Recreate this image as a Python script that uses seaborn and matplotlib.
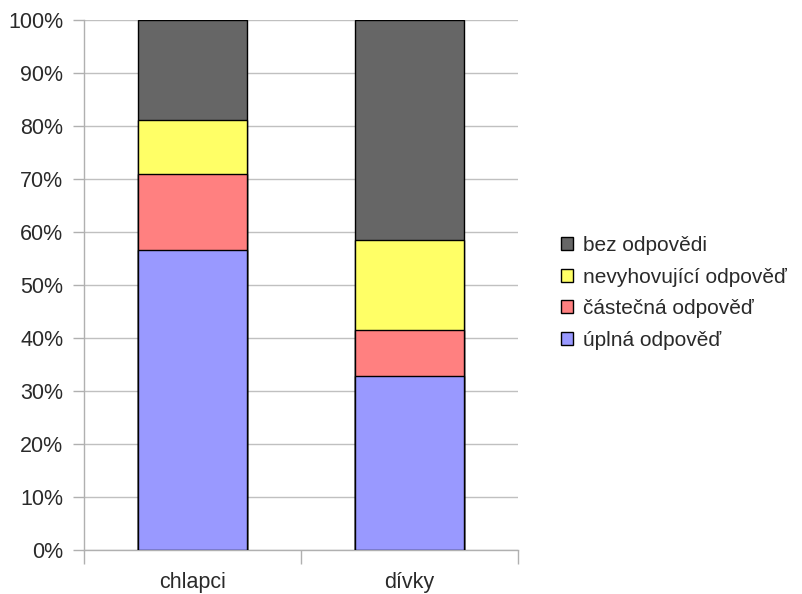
import numpy as np
import pandas as pd
import matplotlib
matplotlib.use("Agg")
import matplotlib.pyplot as plt
from matplotlib.patches import Patch
from matplotlib.ticker import FixedLocator, PercentFormatter
import seaborn as sns

groups = ["chlapci", "dívky"]
series = ["úplná odpověď", "částečná odpověď", "nevyhovující odpověď", "bez odpovědi"]
uplna = [56.6, 32.9]
castecna = [14.4, 8.6]
nevyhovujici = [10.1, 17.0]
bez = [18.9, 41.5]
colors = ["#9999ff", "#ff8080", "#ffff66", "#666666"]

sns.set_theme(style="white")
plt.rcParams["font.family"] = ["Liberation Sans", "DejaVu Sans"]

values = np.array([uplna, castecna, nevyhovujici, bez])
cum = values.cumsum(axis=0)

fig = plt.figure(figsize=(8.02, 5.94), dpi=100)
ax = fig.add_axes([84 / 802, 1 - 550 / 594, (518 - 84) / 802, 530 / 594])

# draw cumulative totals from the top segment down so each layer sits on the next
for i in range(len(series) - 1, -1, -1):
    df = pd.DataFrame({"skupina": groups, "hodnota": cum[i]})
    sns.barplot(data=df, x="skupina", y="hodnota", color=colors[i], width=0.5,
                edgecolor="black", linewidth=1.0, saturation=1, ax=ax, zorder=3)

ax.set_xlim(-0.5, 1.5)
ax.set_ylim(0, 100)
ax.set_yticks(np.arange(0, 101, 10))
ax.yaxis.set_major_formatter(PercentFormatter(decimals=0))
ax.set_xlabel("")
ax.set_ylabel("")

ax.grid(axis="y", color="#c0c0c0", linewidth=1.0, zorder=0)
ax.set_axisbelow(True)
for s in ["top", "right"]:
    ax.spines[s].set_visible(False)
for s in ["left", "bottom"]:
    ax.spines[s].set_color("#b0b0b0")
    ax.spines[s].set_linewidth(1.0)

fs = 15.5
ax.tick_params(axis="y", which="major", length=8, width=1, color="#b0b0b0",
               labelsize=fs, labelcolor="#2a2a2a", pad=7, left=True)
ax.xaxis.set_minor_locator(FixedLocator([-0.5, 0.5, 1.5]))
ax.tick_params(axis="x", which="minor", length=10, width=1, color="#b0b0b0", bottom=True)
ax.tick_params(axis="x", which="major", length=0, labelsize=fs, labelcolor="#2a2a2a", pad=16)

handles = [Patch(facecolor=colors[i], edgecolor="black", linewidth=1.0, label=series[i])
           for i in range(len(series) - 1, -1, -1)]
fig.legend(handles=handles, loc="center left", bbox_to_anchor=(0.676, 0.507),
           frameon=False, fontsize=15, handlelength=0.58, handleheight=0.58,
           handletextpad=0.5, labelspacing=0.6, labelcolor="#2a2a2a")

fig.savefig("out.png", dpi=100)
